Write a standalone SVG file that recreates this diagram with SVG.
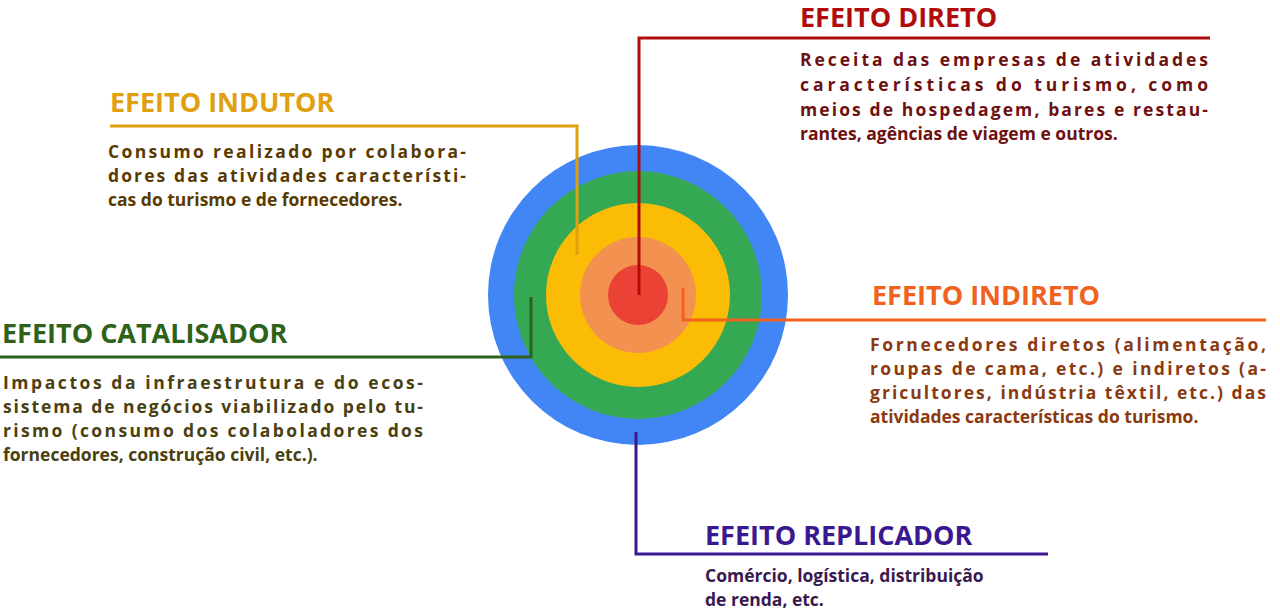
<svg xmlns="http://www.w3.org/2000/svg" width="1280" height="613" viewBox="0 0 1280 613">
<style>
.t{font-family:"Open Sans","Liberation Sans",sans-serif;font-weight:700;font-size:27px}
.b{font-family:"Open Sans","Liberation Sans",sans-serif;font-weight:700;font-size:17.5px}
.l{fill:none;stroke-width:3}
</style>
<rect width="1280" height="613" fill="#fff"/>
<g id="circles">
<circle cx="638" cy="295" r="150" fill="#4285F4"/>
<circle cx="638" cy="295" r="124" fill="#34A853"/>
<circle cx="638" cy="295" r="92" fill="#FBBC05"/>
<circle cx="638" cy="295" r="58" fill="#F29150"/>
<circle cx="638" cy="295" r="30" fill="#EA4335"/>
</g>
<g id="connectors">
<polyline class="l" stroke="#B00C0C" points="639,295 639,38 1210,38"/>
<polyline class="l" stroke="#E0A010" points="577,255 577,126 110,126"/>
<polyline class="l" stroke="#F0621E" points="683,288 683,320 1266,320"/>
<polyline class="l" stroke="#2E6218" points="531,297 531,357 0,357"/>
<polyline class="l" stroke="#3A1890" points="636,432 636,554 1048,554"/>
</g>
<g id="direto">
<text class="t" x="800" y="27" fill="#B00C0C">EFEITO DIRETO</text>
<g class="b" fill="#6E1010">
<text x="800" y="66" textLength="408" lengthAdjust="spacing">Receita das empresas de atividades</text>
<text x="800" y="91" textLength="408" lengthAdjust="spacing">características do turismo, como</text>
<text x="800" y="116" textLength="408" lengthAdjust="spacing">meios de hospedagem, bares e restau-</text>
<text x="800" y="140">rantes, agências de viagem e outros.</text>
</g>
</g>
<g id="indutor">
<text class="t" x="110" y="112" fill="#E0A010">EFEITO INDUTOR</text>
<g class="b" fill="#5A3A00">
<text x="108" y="158" textLength="358" lengthAdjust="spacing">Consumo realizado por colabora-</text>
<text x="108" y="182" textLength="358" lengthAdjust="spacing">dores das atividades característi-</text>
<text x="108" y="206">cas do turismo e de fornecedores.</text>
</g>
</g>
<g id="indireto">
<text class="t" x="872" y="305" fill="#F0621E">EFEITO INDIRETO</text>
<g class="b" fill="#8A3A10">
<text x="870" y="351" textLength="396" lengthAdjust="spacing">Fornecedores diretos (alimentação,</text>
<text x="870" y="375" textLength="396" lengthAdjust="spacing">roupas de cama, etc.) e indiretos (a-</text>
<text x="870" y="399" textLength="396" lengthAdjust="spacing">gricultores, indústria têxtil, etc.) das</text>
<text x="870" y="423">atividades características do turismo.</text>
</g>
</g>
<g id="catalisador">
<text class="t" x="2" y="343" fill="#2E6218">EFEITO CATALISADOR</text>
<g class="b" fill="#4A4010">
<text x="3" y="389" textLength="420" lengthAdjust="spacing">Impactos da infraestrutura e do ecos-</text>
<text x="3" y="413" textLength="420" lengthAdjust="spacing">sistema de negócios viabilizado pelo tu-</text>
<text x="3" y="437" textLength="420" lengthAdjust="spacing">rismo (consumo dos colaboladores dos</text>
<text x="3" y="461">fornecedores, construção civil, etc.).</text>
</g>
</g>
<g id="replicador">
<text class="t" x="705" y="545" fill="#3A1890">EFEITO REPLICADOR</text>
<g class="b" fill="#3A1850">
<text x="705" y="582">Comércio, logística, distribuição</text>
<text x="705" y="606">de renda, etc.</text>
</g>
</g>
</svg>
